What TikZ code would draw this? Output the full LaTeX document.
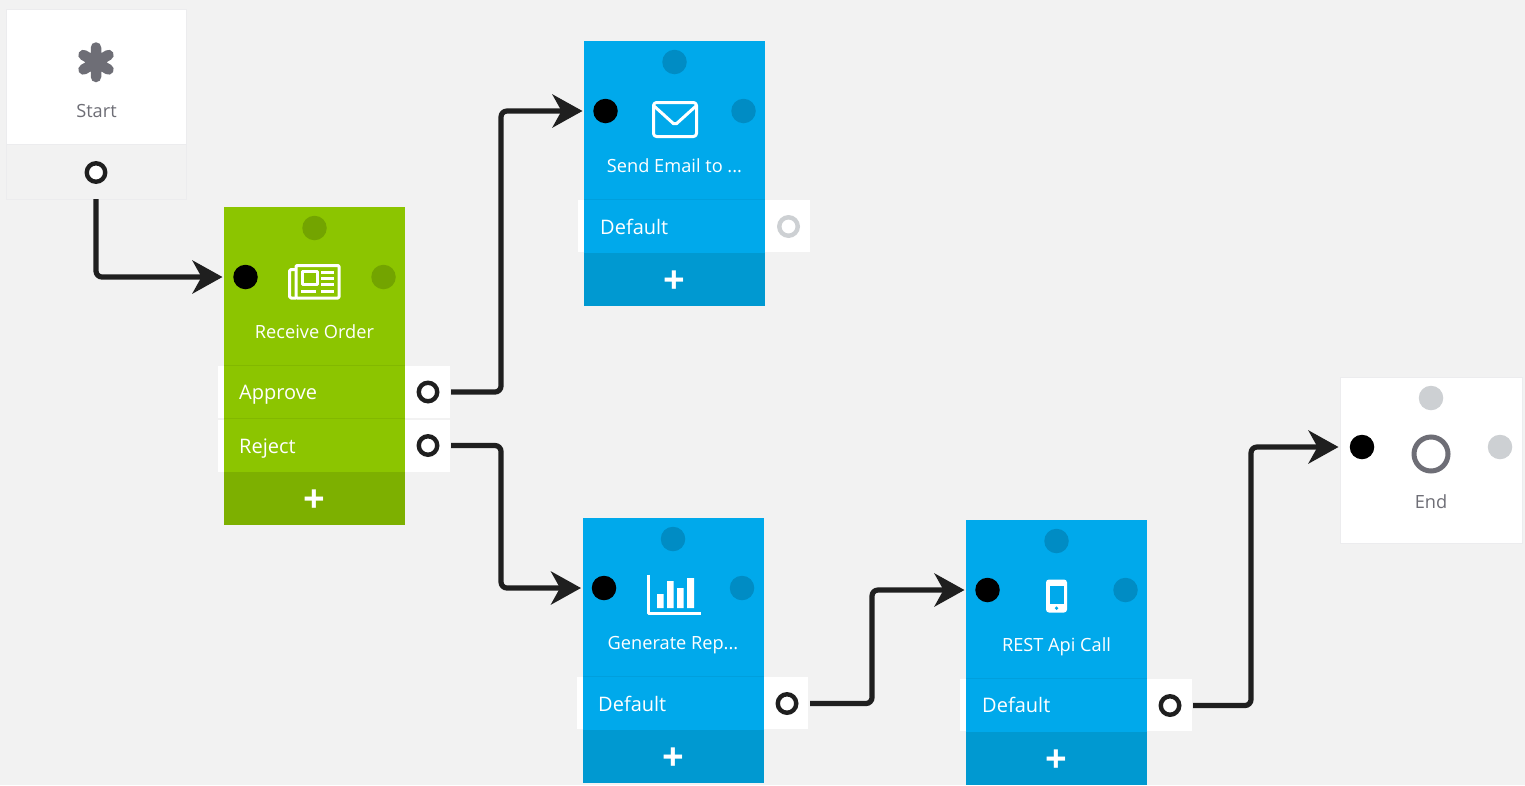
\documentclass[tikz,border=0pt]{standalone}
\usepackage{fontspec}
\setmainfont{Open Sans}
\usetikzlibrary{arrows.meta,calc}
\definecolor{bgc}{HTML}{F2F2F2}
\definecolor{edgec}{HTML}{ECECEE}
\definecolor{greenb}{HTML}{8CC500}
\definecolor{greenf}{HTML}{7DB000}
\definecolor{greend}{HTML}{73A400}
\definecolor{greens}{HTML}{82B800}
\definecolor{blueb}{HTML}{00A9EB}
\definecolor{bluef}{HTML}{0099D1}
\definecolor{blued}{HTML}{008CC4}
\definecolor{blues}{HTML}{009FDD}
\definecolor{greyt}{HTML}{6E6E76}
\definecolor{greyd}{HTML}{CDD0D3}
\definecolor{linec}{HTML}{1F1F1F}
\tikzset{
  x=1pt,y=-1pt,
  box/.style={rectangle,inner sep=0pt,outer sep=0pt,minimum width=181pt},
  dot/.style={circle,inner sep=0pt,outer sep=0pt,minimum size=24.5pt},
  port/.style={circle,draw=linec,fill=white,line width=4.4pt,inner sep=0pt,minimum size=18.5pt,outer sep=13.75pt},
  portdim/.style={port,draw=greyd},
  strip/.style={rectangle,fill=white,inner sep=0pt,outer sep=0pt,minimum width=231.5pt,minimum height=52pt},
  title/.style={text=white,font=\fontsize{18.2}{22}\selectfont,inner sep=0pt,anchor=base},
  rowlabel/.style={text=white,font=\fontsize{20}{24}\selectfont,inner sep=0pt,anchor=base west},
  greylabel/.style={text=greyt,font=\fontsize{18.2}{22}\selectfont,inner sep=0pt,anchor=base},
  plus/.style={text=white,font=\bfseries\fontsize{38}{40}\selectfont,inner sep=0pt},
  conn/.style={draw=linec,line width=5.2pt,rounded corners=6pt,shorten >=1.5pt,-{Stealth[length=30pt,width=33pt,inset=9pt]}},
  icon/.style={draw=white,line width=3pt,line join=round},
}
% id, centre x, top y, footer top y, colours body/foot/dot/separator, title
\newcommand{\cardbody}[9]{%
  \node[box,fill=#5,minimum height=#4pt-#3pt+53pt,anchor=north] (#1) at (#2,#3) {};
  \node[box,fill=#6,minimum height=53pt,anchor=north] (#1foot) at (#2,#4) {};
  \node[dot,fill=#7] (#1top) at (#2,#3+21) {};
  \node[dot,fill=black] (#1in) at (#2-69,#3+70) {};
  \node[dot,fill=#7] (#1right) at (#2+69,#3+70) {};
  \node[title] (#1title) at (#2,#3+131.5) {#9};
  \node[plus] (#1plus) at (#2,#4+29) {+};
}
\begin{document}
\begin{tikzpicture}
\useasboundingbox (0,0) rectangle (1525,785);
\fill[bgc] (0,0) rectangle (1525,785);

% Start
\node[box,fill=white,draw=edgec,line width=0.8pt,minimum width=180.5pt,minimum height=135pt,anchor=north] (start) at (96.5,9) {};
\node[box,fill=bgc,draw=edgec,line width=0.8pt,minimum width=180.5pt,minimum height=55pt,anchor=north] (startfoot) at (96.5,144) {};
\draw[greyt,line width=10.5pt,line cap=round] (96,47.5) -- (96,77) (83.5,55) -- (108.5,69.5) (83.5,69.5) -- (108.5,55);
\node[greylabel] (starttitle) at (96.5,117) {Start};
\node[port] (startout) at (96,172.5) {};

% strips behind cards
\node[strip,anchor=west] (s1) at (218,392) {};
\node[strip,anchor=west] (s2) at (218,445.5) {};
\node[strip,anchor=west] (s3) at (578,226) {};
\node[strip,anchor=west] (s4) at (576.5,703) {};
\node[strip,anchor=west] (s5) at (960,705) {};

% Cards
\cardbody{recv}{314.5}{207}{472}{greenb}{greenf}{greend}{greens}{Receive Order}
\cardbody{mail}{674.5}{41}{253}{blueb}{bluef}{blued}{blues}{Send Email to ...}
\cardbody{rep}{673}{518}{730}{blueb}{bluef}{blued}{blues}{Generate Rep...}
\cardbody{rest}{1056.5}{520}{732}{blueb}{bluef}{blued}{blues}{REST Api Call}

% separators
\draw[greens,line width=1pt] (224,365.5) -- (405,365.5) (224,418.5) -- (405,418.5);
\draw[blues,line width=1pt] (584,199.5) -- (765,199.5) (583,676.5) -- (764,676.5) (966,678.5) -- (1147,678.5);

% rows
\node[rowlabel] (rA) at (239,399.5) {Approve};
\node[rowlabel] (rB) at (239,453.5) {Reject};
\node[rowlabel] (rC) at (600,234) {Default};
\node[rowlabel] (rD) at (598,711) {Default};
\node[rowlabel] (rE) at (982,712.5) {Default};
\node[port] (pA) at (428,392) {};
\node[port] (pB) at (428,445.5) {};
\node[portdim] (pC) at (788.5,226.5) {};
\node[port] (pD) at (787,703.5) {};
\node[port] (pE) at (1170,705.5) {};

% End
\node[rectangle,fill=white,draw=edgec,line width=0.8pt,inner sep=0pt,outer sep=0pt,minimum width=182pt,minimum height=166pt,anchor=north] (endn) at (1431,377) {};
\node[dot,fill=greyd] (endtop) at (1431,398) {};
\node[dot,fill=black] (endin) at (1362,447) {};
\node[dot,fill=greyd] (endright) at (1500,447) {};
\node[circle,draw=greyt,line width=5pt,inner sep=0pt,minimum size=34pt] (endring) at (1431,454) {};
\node[greylabel] (endtitle) at (1431,508) {End};

% Icons
% newspaper
\draw[icon,rounded corners=1pt] (296,265.5) -- (339,265.5) -- (339,298) -- (296,298) -- cycle;
\draw[icon,rounded corners=1.5pt] (296,269.5) -- (289.5,269.5) -- (289.5,298) -- (296,298);
\draw[icon] (302,271.5) rectangle (317,284);
\draw[icon] (321,272) -- (334,272) (321,278) -- (334,278) (321,284) -- (334,284)
  (301,291.5) -- (316,291.5) (321,291.5) -- (334,291.5);
% envelope
\draw[icon,rounded corners=3pt] (653.5,102.5) rectangle (696.5,136.5);
\draw[icon,rounded corners=2pt] (654,106) -- (675,125) -- (696,106);
% chart
\draw[icon,line cap=butt] (648.5,574.5) -- (648.5,613) -- (700.5,613);
\fill[white] (657,594) rectangle (663.5,608) (667,581) rectangle (673.5,608) (677,588) rectangle (683.5,608) (687,578) rectangle (694,608);
% phone
\fill[white,rounded corners=3pt] (1046,579.5) rectangle (1067,612.5);
\fill[blueb] (1049.5,585.5) rectangle (1063.5,604);
\fill[blueb] (1056.5,608.2) circle (1.8pt);

% Connectors
\draw[conn] ($(startout.south)+(0,3.5)$) |- (recv.west |- recvin);
\draw[conn] (pA.east) -- ++(50,0) |- (mail.west |- mailin);
\draw[conn] (pB.east) -- ++(50,0) |- (rep.west |- repin);
\draw[conn] (pD.east) -- ++(62,0) |- (rest.west |- restin);
\draw[conn] (pE.east) -- ++(58,0) |- (endn.west |- endin);
\end{tikzpicture}
\end{document}
